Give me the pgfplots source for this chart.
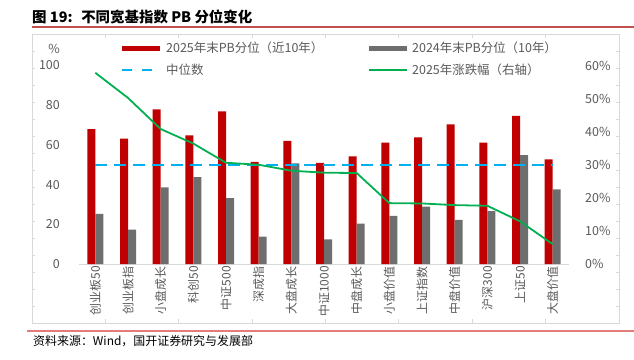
\documentclass[border=0pt]{standalone}
\usepackage{pgfplots}
\pgfplotsset{compat=1.18}
\usepackage{fontspec}
\setmainfont{Noto Sans CJK SC}
\definecolor{barred}{RGB}{192,0,0}
\definecolor{bargray}{RGB}{110,110,110}
\definecolor{medblue}{RGB}{0,176,240}
\definecolor{lgreen}{RGB}{0,176,80}
\definecolor{txtgray}{RGB}{89,89,89}
\definecolor{framegray}{RGB}{217,217,217}
\definecolor{topred}{RGB}{192,80,77}
\definecolor{botred}{RGB}{225,125,125}
\begin{document}
\begin{tikzpicture}[x=1bp,y=1bp]
\useasboundingbox (0,0) rectangle (634,359);
% title and source
\node[anchor=west,inner sep=0pt,font=\fontsize{14.5}{14.5}\selectfont\bfseries] at (32,342) {图 19:\hspace{0.6em}不同宽基指数 PB 分位变化};
\draw[topred,line width=1.2bp] (32,332) -- (634,332);
\draw[botred,line width=1.5bp] (27,28) -- (634,28);
\node[anchor=west,inner sep=0pt,font=\fontsize{12}{12}\selectfont] at (33,18) {资料来源：Wind，国开证券研究与发展部};
% frame
\draw[framegray,line width=0.8bp] (32,36) rectangle (619,325);
\foreach \k in {1,...,7}{
  \draw[framegray,line width=0.8bp] ({32+73.375*\k},325) -- ++(0,-4);
  \draw[framegray,line width=0.8bp] ({32+73.375*\k},36) -- ++(0,4);
}
\foreach \k in {1,...,16}{
  \draw[framegray,line width=0.8bp] (32,{36+17*\k}) -- ++(3,0);
  \draw[framegray,line width=0.8bp] (619,{36+17*\k}) -- ++(-3,0);
}
% legend
\fill[barred] (122,308.5) rectangle (160,313.5);
\node[anchor=west,inner sep=0pt,text=txtgray,font=\fontsize{12.5}{12.5}\selectfont] at (166,311) {2025年末PB分位（近10年）};
\fill[bargray] (369,308.5) rectangle (407,313.5);
\node[anchor=west,inner sep=0pt,text=txtgray,font=\fontsize{12.5}{12.5}\selectfont] at (412,311) {2024年末PB分位（10年）};
\draw[medblue,line width=2.5bp,dash pattern=on 10bp off 10bp] (122,289) -- (162,289);
\node[anchor=west,inner sep=0pt,text=txtgray,font=\fontsize{12.5}{12.5}\selectfont] at (166,289) {中位数};
\draw[lgreen,line width=1.8bp] (369,289) -- (407,289);
\node[anchor=west,inner sep=0pt,text=txtgray,font=\fontsize{12.5}{12.5}\selectfont] at (412,289) {2025年涨跌幅（右轴）};
\node[anchor=center,inner sep=0pt,text=txtgray,font=\fontsize{12.5}{12.5}\selectfont] at (54,310) {\%};
% main axis
\begin{axis}[
  at={(79bp,95bp)}, anchor=south west, scale only axis,
  width=490bp, height=198.5bp,
  xmin=-0.5, xmax=14.5, ymin=0, ymax=100,
  axis y line*=left, axis x line*=bottom,
  y axis line style={draw=none},
  x axis line style={draw=framegray,line width=1bp},
  ytick={0,20,...,100}, major tick length=0pt,
  xtick={0,...,14},
  xticklabels={创业板50,创业板指,小盘成长,科创50,中证500,深成指,大盘成长,中证1000,中盘成长,小盘价值,上证指数,中盘价值,沪深300,上证50,大盘价值},
  xticklabel style={rotate=90,anchor=east,inner sep=2bp,text=txtgray,font=\fontsize{12}{12}\selectfont},
  yticklabel style={anchor=east,inner sep=0pt,xshift=-19bp,text=txtgray,font=\fontsize{12.5}{12.5}\selectfont},
  /pgf/number format/assume math mode=true,
  clip=false,
]
\addplot[ybar,bar width=8bp,bar shift=-4bp,fill=barred,draw=none] coordinates {
(0,68.0) (1,63.1) (2,77.9) (3,64.8) (4,76.9) (5,51.5) (6,62.0) (7,51.0) (8,54.2) (9,61.1) (10,63.8) (11,70.4) (12,61.1) (13,74.6) (14,52.7)};
\addplot[ybar,bar width=8bp,bar shift=4bp,fill=bargray,draw=none] coordinates {
(0,25.2) (1,17.3) (2,38.6) (3,43.8) (4,33.2) (5,13.8) (6,50.7) (7,12.4) (8,20.3) (9,24.3) (10,28.9) (11,22.2) (12,26.7) (13,54.9) (14,37.6)};
\addplot[medblue,line width=2.5bp,dash pattern=on 12bp off 7bp,mark=none] coordinates {(0,50) (14,50)};
\end{axis}
% right axis
\begin{axis}[
  at={(79bp,95bp)}, anchor=south west, scale only axis,
  width=490bp, height=198.5bp,
  xmin=-0.5, xmax=14.5, ymin=0, ymax=60,
  axis y line*=right, axis x line=none,
  y axis line style={draw=none},
  ytick={0,10,...,60}, major tick length=0pt,
  yticklabels={0\%,10\%,20\%,30\%,40\%,50\%,60\%},
  yticklabel style={anchor=west,inner sep=0pt,xshift=16bp,text=txtgray,font=\fontsize{12.5}{12.5}\selectfont},
  clip=false,
]
\addplot[lgreen,line width=1.8bp,mark=none] coordinates {
(0,57.8) (1,50.2) (2,40.8) (3,36.4) (4,30.6) (5,30.0) (6,28.2) (7,27.6) (8,27.5) (9,18.4) (10,18.3) (11,17.8) (12,17.6) (13,12.9) (14,6.0)};
\end{axis}
\end{tikzpicture}
\end{document}
